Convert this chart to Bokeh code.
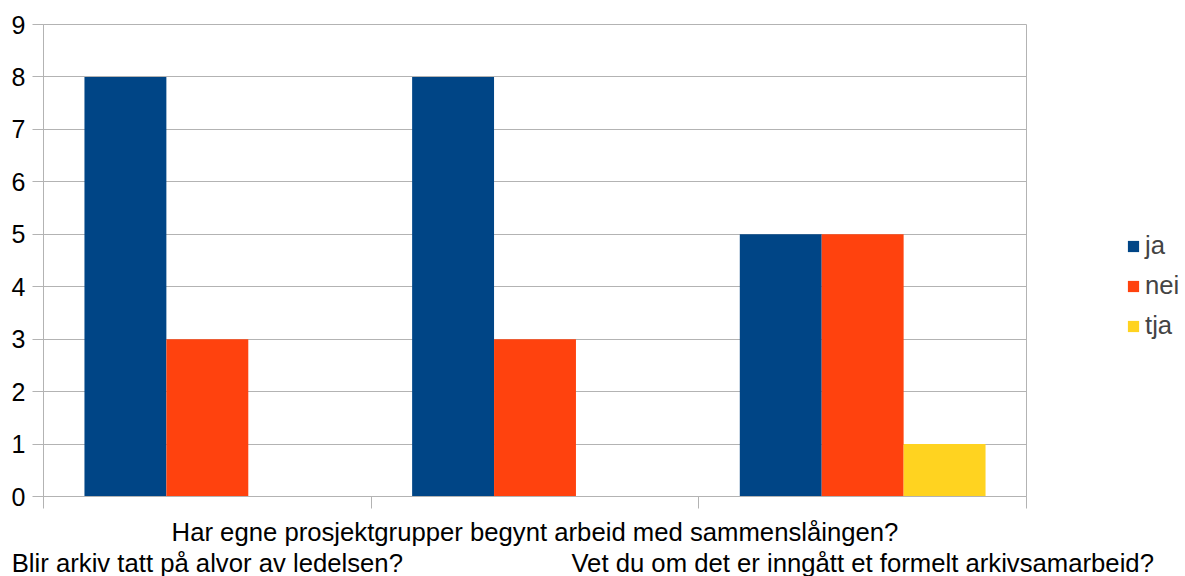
from bokeh.plotting import figure
from bokeh.models import (Range1d, LinearAxis, FixedTicker, Legend, LegendItem, Grid)
from bokeh.embed import file_html
from bokeh.resources import INLINE

# ---- data ----
categories = ["Blir arkiv tatt på alvor av ledelsen?",
              "Har egne prosjektgrupper begynt arbeid med sammenslåingen?",
              "Vet du om det er inngått et formelt arkivsamarbeid?"]
series_names = ["ja", "nei", "tja"]
ja_values = [8, 8, 5]
nei_values = [3, 3, 5]
tja_values = [0, 0, 1]
y_ticks = [0, 1, 2, 3, 4, 5, 6, 7, 8, 9]

colors = ["#004586", "#ff420e", "#ffd320"]
grid_color = "#b3b3b3"
FONT = "Liberation Sans"
FS = "25.7px"
YFS = "25px"

n = len(categories)
p = figure(frame_width=983, frame_height=472,
           x_range=Range1d(0, n), y_range=Range1d(0, 9),
           output_backend="svg", toolbar_location=None,
           min_border_left=43, min_border_top=24, min_border_right=152,
           min_border_bottom=70, x_axis_type=None, y_axis_type=None)
p.background_fill_color = "white"
p.border_fill_color = "white"
p.outline_line_color = grid_color
p.outline_line_width = 1

all_vals = [ja_values, nei_values, tja_values]
bar_w = 0.25
renderers = []
for j, vals in enumerate(all_vals):
    xs = [i + 0.25 + j * bar_w for i in range(n)]
    r = p.vbar(x=xs, top=vals, bottom=0, width=bar_w, fill_color=colors[j],
               line_color=None)
    renderers.append(r)

# y axis
yax = LinearAxis(ticker=FixedTicker(ticks=y_ticks, minor_ticks=[]))
yax.axis_line_color = grid_color
yax.major_tick_line_color = grid_color
yax.major_tick_out = 11
yax.major_tick_in = 0
yax.minor_tick_line_color = None
yax.major_label_text_font = FONT
yax.major_label_text_font_size = YFS
yax.major_label_text_color = "black"
yax.major_label_standoff = 7
p.add_layout(yax, "left")

grid = Grid(dimension=1, ticker=yax.ticker, grid_line_color=grid_color)
p.add_layout(grid)

# x axis A: tick marks at boundaries, middle label
xa = LinearAxis(ticker=FixedTicker(ticks=[1.5], minor_ticks=[0, 1, 2, 3]))
xa.major_label_overrides = {1.5: categories[1]}
xa.axis_line_color = grid_color
xa.major_tick_line_color = None
xa.major_tick_out = 0
xa.minor_tick_line_color = grid_color
xa.minor_tick_out = 12
xa.minor_tick_in = 0
xa.major_label_text_font = FONT
xa.major_label_text_font_size = FS
xa.major_label_text_color = "black"
xa.major_label_standoff = 9
p.add_layout(xa, "below")

# x axis B: outer labels
xb = LinearAxis(ticker=FixedTicker(ticks=[0.5, 2.5], minor_ticks=[]))
xb.major_label_overrides = {0.5: categories[0], 2.5: categories[2]}
xb.axis_line_color = None
xb.major_tick_line_color = None
xb.minor_tick_line_color = None
xb.major_tick_out = 0
xb.major_label_text_font = FONT
xb.major_label_text_font_size = FS
xb.major_label_text_color = "black"
xb.major_label_standoff = 0
p.add_layout(xb, "below")

legend = Legend(items=[LegendItem(label=series_names[j], renderers=[renderers[j]])
                       for j in range(3)],
                location=(100, 156))
legend.label_text_font = FONT
legend.label_text_font_size = FS
legend.glyph_width = 14
legend.glyph_height = 14
legend.label_standoff = 5
legend.spacing = 11
legend.padding = 0
legend.margin = 0
legend.border_line_color = None
legend.background_fill_alpha = 0
p.add_layout(legend, "right")

open("out.html", "w").write(file_html(p, INLINE))
